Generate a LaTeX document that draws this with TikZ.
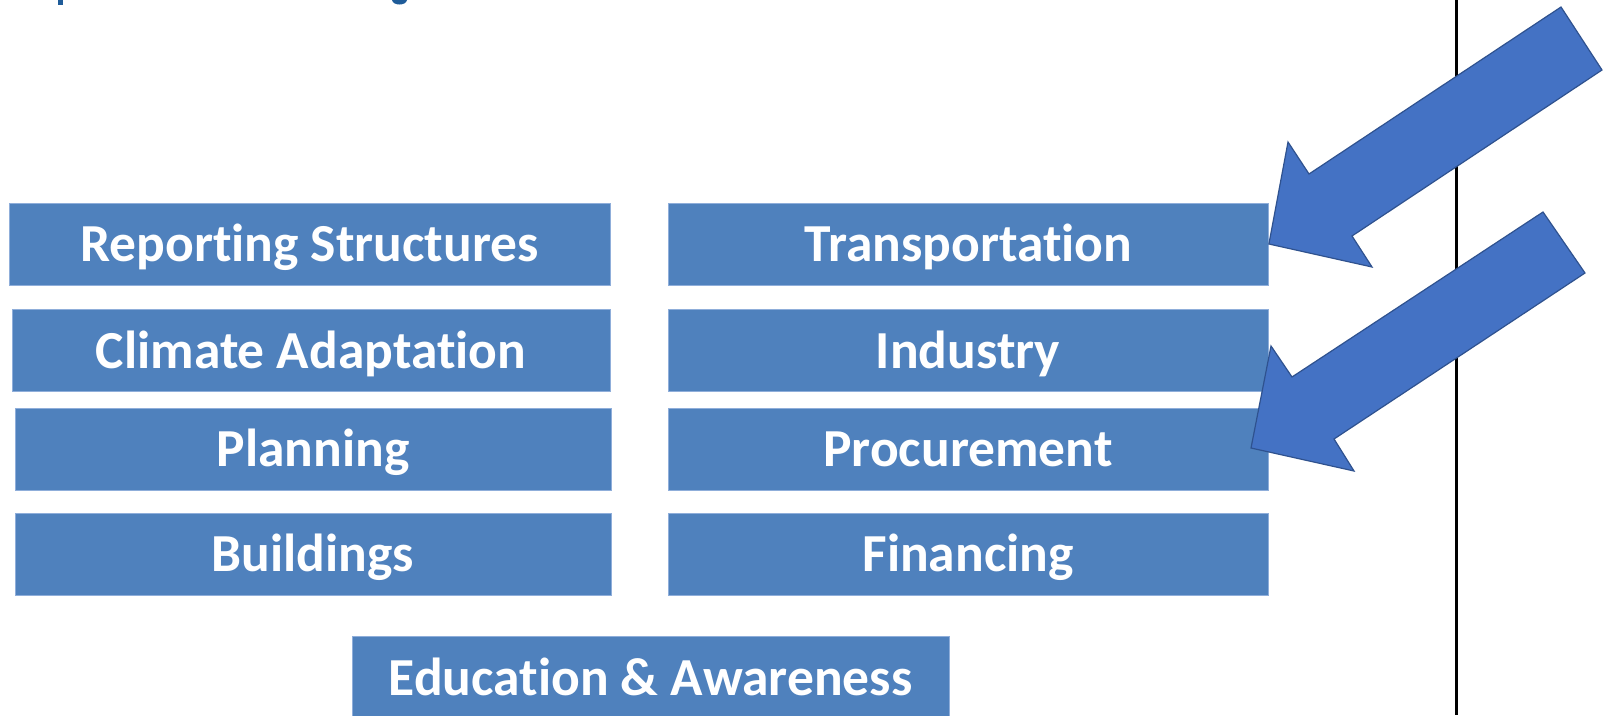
\documentclass[tikz,border=0pt]{standalone}
\usepackage{fontspec}
\setmainfont{Carlito}[Ligatures={NoCommon}]
\definecolor{boxblue}{HTML}{4F81BD}
\definecolor{boxedge}{HTML}{8FAEDA}
\definecolor{arrowblue}{HTML}{4472C4}
\definecolor{arrowedge}{HTML}{2F528F}
\definecolor{titleblue}{HTML}{1F5C99}
\begin{document}
\begin{tikzpicture}[x=1pt,y=-1pt,
  tile/.style={rectangle, fill=boxblue, draw=boxedge, line width=0.8pt,
    minimum width=600pt, minimum height=82pt, inner sep=0pt,
    text height=40pt, text depth=5pt,
    text=white, font=\fontsize{53.5}{60}\selectfont\bfseries},
  bigarrow/.style={fill=arrowblue, draw=arrowedge, line width=1.2pt, line join=miter}]
\clip (0,0) rectangle (1608,715);
\fill[white] (0,0) rectangle (1608,715);
% fragments of a cut-off title
\fill[titleblue] (58,0) rectangle (63,5);
\fill[titleblue] (392,0) .. controls (393,6) and (406,6) .. (407,0) -- cycle;
% divider line
\coordinate (ltop) at (1456,0);
\coordinate (lbot) at (1456,715);
\draw[line width=3pt, black] (ltop) -- (lbot);
% tiles
\node[tile, minimum width=601pt] (rep) at (309.5,244) {Reporting Structures};
\node[tile] (trn) at (968.5,244) {Transportation};
\node[tile, minimum width=598pt] (cli) at (311,350.5) {Climate Adaptation};
\node[tile] (ind) at (968,350.5) {Industry};
\node[tile, minimum width=596pt] (pla) at (313,449) {Planning};
\node[tile] (pro) at (968,449) {Procurement};
\node[tile, minimum width=596pt] (bui) at (313,554) {Buildings};
\node[tile] (fin) at (968,554) {Financing};
\node[tile, minimum width=597pt, minimum height=84pt] (edu) at (650.5,678) {Education \& Awareness};
% arrows
\draw[bigarrow] (trn.east) -- (1288,142) -- (1309,174) -- (1561,7) -- (1602,70)
  -- (1352,236) -- (1372,267) -- cycle;
\coordinate (tip2) at (1251,448);
\draw[bigarrow] (tip2) -- (1271,346) -- (1292,377) -- (1543,212) -- (1585,273)
  -- (1334,439) -- (1354,471) -- cycle;
\end{tikzpicture}
\end{document}
